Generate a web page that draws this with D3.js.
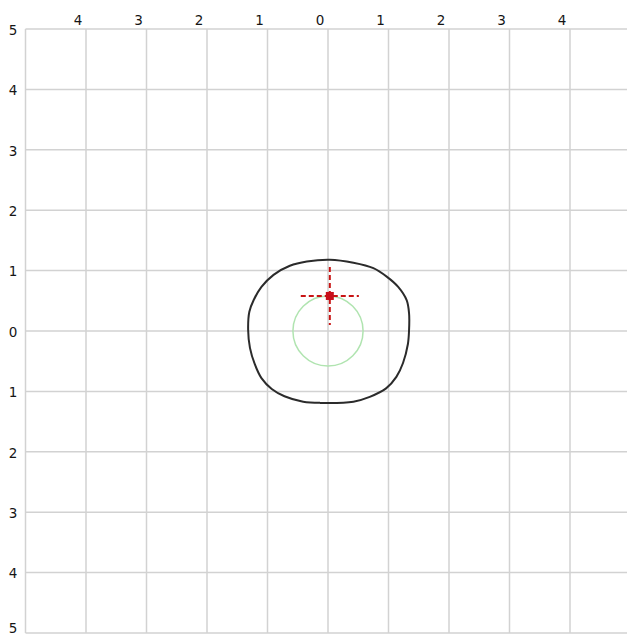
<!DOCTYPE html>
<html>
<head>
<meta charset="utf-8">
<script src="https://cdn.jsdelivr.net/npm/d3@7"></script>
<style>
  html, body { margin: 0; padding: 0; background: #fff; overflow: hidden; }
  svg { display: block; }
  .tick-label { font-family: "DejaVu Sans", Verdana, sans-serif; font-size: 13.5px; fill: #151515; }
</style>
</head>
<body>
<svg id="chart" width="627" height="636"></svg>
<script>
// Axis ticks (labels show absolute distance from the centre)
const xTicks = [-5, -4, -3, -2, -1, 0, 1, 2, 3, 4, 5];
const yTicks = [-5, -4, -3, -2, -1, 0, 1, 2, 3, 4, 5];
const xLabelTicks = [-4, -3, -2, -1, 0, 1, 2, 3, 4];
const yLabelTicks = [5, 4, 3, 2, 1, 0, -1, -2, -3, -4, -5];

// Measured outline, clockwise from the top
const outlineX = [0.03, 0.42, 0.75, 0.97, 1.16, 1.30, 1.34, 1.34, 1.32, 1.24, 1.13, 0.96, 0.69, 0.42,
                  -0.13, -0.41, -0.72, -0.93, -1.10, -1.21, -1.29, -1.32, -1.30, -1.23, -1.10, -0.90, -0.63, -0.35];
const outlineY = [1.18, 1.13, 1.04, 0.90, 0.73, 0.51, 0.29, 0.02, -0.22, -0.53, -0.76, -0.95, -1.09, -1.17,
                  -1.19, -1.17, -1.08, -0.96, -0.78, -0.55, -0.28, 0.02, 0.32, 0.51, 0.73, 0.93, 1.08, 1.15];

// Reference circle (centre and radius)
const circleCenter = [0, 0];
const circleRadius = 0.58;

// Crosshair marker: centre and arm half-length
const markerCenter = [0.03, 0.58];
const markerArm = 0.48;

const svg = d3.select("#chart");
const x = d3.scaleLinear().domain([-5, 5]).range([25.5, 630.5]);
const y = d3.scaleLinear().domain([-5, 5]).range([633, 29]);

// Grid
const grid = svg.append("g").attr("stroke", "#d2d2d2").attr("stroke-width", 1.5);
grid.selectAll("line.v").data(xTicks).join("line")
  .attr("class", "v")
  .attr("x1", d => x(d)).attr("x2", d => x(d))
  .attr("y1", y(5)).attr("y2", y(-5));
grid.selectAll("line.h").data(yTicks).join("line")
  .attr("class", "h")
  .attr("x1", x(-5)).attr("x2", x(5))
  .attr("y1", d => y(d)).attr("y2", d => y(d));

// Top labels
svg.append("g").selectAll("text").data(xLabelTicks).join("text")
  .attr("class", "tick-label")
  .attr("x", d => x(d) - 8)
  .attr("y", 25)
  .attr("text-anchor", "middle")
  .text(d => Math.abs(d));

// Left labels
svg.append("g").selectAll("text").data(yLabelTicks).join("text")
  .attr("class", "tick-label")
  .attr("x", 13)
  .attr("y", d => Math.min(y(d) + 1, 628))
  .attr("dy", "0.35em")
  .attr("text-anchor", "middle")
  .text(d => Math.abs(d));

// Green reference circle
svg.append("ellipse")
  .attr("cx", x(circleCenter[0])).attr("cy", y(circleCenter[1]))
  .attr("rx", x(circleRadius) - x(0)).attr("ry", y(0) - y(circleRadius))
  .attr("fill", "none").attr("stroke", "#b0e4b0").attr("stroke-width", 1.5);

// Outline
const pts = outlineX.map((v, i) => [v, outlineY[i]]);
const line = d3.line().x(d => x(d[0])).y(d => y(d[1])).curve(d3.curveCatmullRomClosed.alpha(0.5));
svg.append("path")
  .attr("d", line(pts))
  .attr("fill", "none").attr("stroke", "#2b2b2b").attr("stroke-width", 2);

// Crosshair marker
const mk = svg.append("g").attr("stroke", "#c81414").attr("stroke-width", 2).attr("stroke-dasharray", "5,3");
mk.append("line")
  .attr("x1", x(markerCenter[0] - markerArm)).attr("x2", x(markerCenter[0] + markerArm))
  .attr("y1", y(markerCenter[1])).attr("y2", y(markerCenter[1]));
mk.append("line")
  .attr("x1", x(markerCenter[0])).attr("x2", x(markerCenter[0]))
  .attr("y1", y(markerCenter[1] + markerArm)).attr("y2", y(markerCenter[1] - markerArm));
svg.append("rect")
  .attr("x", x(markerCenter[0]) - 4).attr("y", y(markerCenter[1]) - 4)
  .attr("width", 8).attr("height", 8)
  .attr("fill", "#c8101a");
</script>
</body>
</html>
